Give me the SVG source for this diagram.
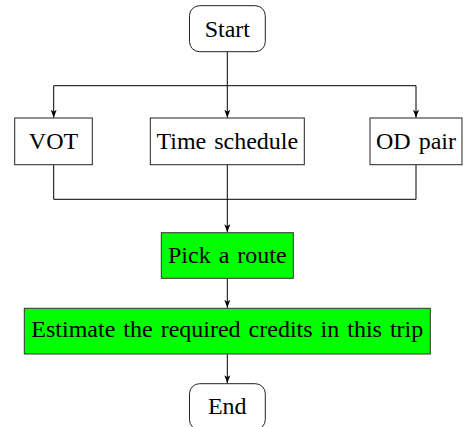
<svg xmlns="http://www.w3.org/2000/svg" width="463" height="427" viewBox="0 0 463 427">
<style>
.box{fill:#ffffff;stroke:#222;stroke-width:1}
.green{fill:#00ff00;stroke:#333;stroke-width:1}
.lbl{font-family:"Liberation Serif","Times New Roman",serif;font-size:24px;fill:#000;text-anchor:middle;word-spacing:2px}
.conn{fill:none;stroke:#000;stroke-width:1}
</style>
<defs>
<marker id="arr" markerUnits="userSpaceOnUse" markerWidth="10" markerHeight="10" refX="8" refY="5" orient="auto">
<path d="M0,2 L8,5 L0,8 L2,5 Z" fill="#000"/>
</marker>
</defs>
<rect width="463" height="427" fill="#ffffff"/>
<g id="connectors">
<path class="conn" d="M227.3,51.7 V117.7" marker-end="url(#arr)"/>
<path class="conn" d="M53.7,85.7 H416"/>
<path class="conn" d="M53.7,85.7 V117.7" marker-end="url(#arr)"/>
<path class="conn" d="M416,85.7 V117.7" marker-end="url(#arr)"/>
<path class="conn" d="M53.7,164.7 V199.3 H416 V164.7"/>
<path class="conn" d="M227.3,164.7 V232.2" marker-end="url(#arr)"/>
<path class="conn" d="M227.3,278.3 V307.8" marker-end="url(#arr)"/>
<path class="conn" d="M227.3,354 V383.2" marker-end="url(#arr)"/>
</g>
<g id="start">
<rect class="box" x="189.5" y="5.7" width="75.8" height="46" rx="10" ry="10"/>
<text class="lbl" x="227.3" y="36.7">Start</text>
</g>
<g id="vot">
<rect class="box" x="14.7" y="118" width="77.6" height="46.7"/>
<text class="lbl" x="53.5" y="149">VOT</text>
</g>
<g id="time">
<rect class="box" x="150.3" y="118" width="154" height="46.7"/>
<text class="lbl" x="227.3" y="149">Time schedule</text>
</g>
<g id="od">
<rect class="box" x="370" y="118" width="92" height="46.7"/>
<text class="lbl" x="416" y="149">OD pair</text>
</g>
<g id="pick">
<rect class="green" x="161.3" y="232.7" width="132" height="45.6"/>
<text class="lbl" x="227.3" y="263.3">Pick a route</text>
</g>
<g id="estimate">
<rect class="green" x="24.3" y="308.3" width="406" height="45.7"/>
<text class="lbl" x="227.3" y="336.7">Estimate the required credits in this trip</text>
</g>
<g id="end">
<rect class="box" x="189.5" y="383.7" width="75.8" height="46" rx="10" ry="10"/>
<text class="lbl" x="227.3" y="414">End</text>
</g>
</svg>
